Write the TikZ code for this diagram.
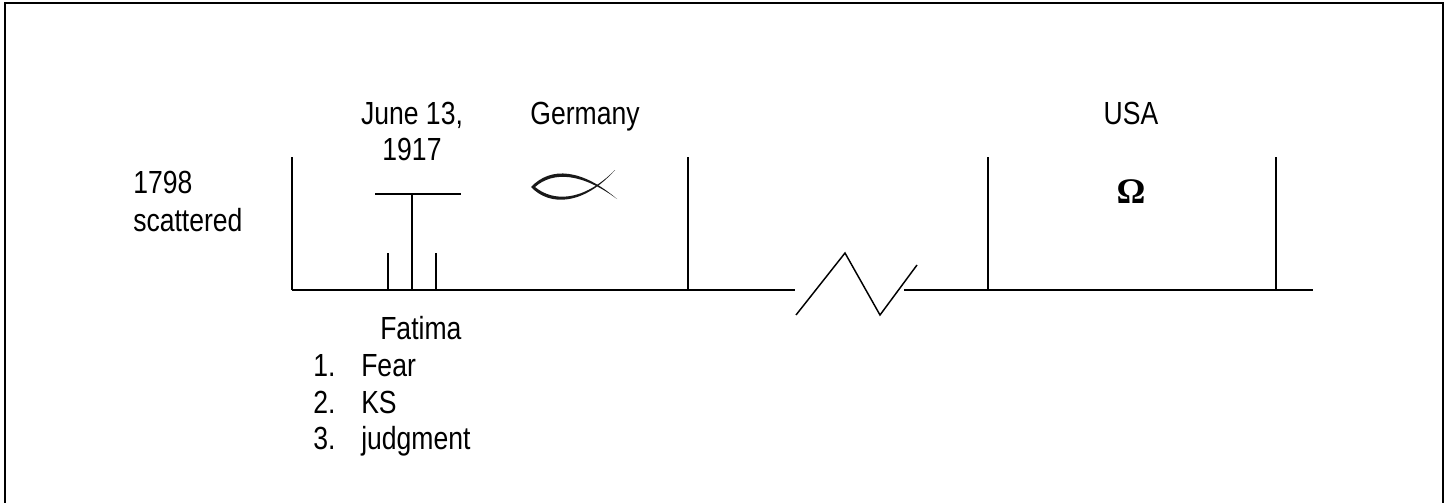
\documentclass[tikz,border=0pt]{standalone}
\usepackage{fontspec}
\setmainfont[FakeStretch=0.83]{Liberation Sans}
\newfontfamily\omegafont{Liberation Serif}
\usetikzlibrary{calc}

\tikzset{
	label/.style={inner sep=0pt, font=\fontsize{24}{27.75}\selectfont},
	rule/.style={line width=1.6pt, line cap=butt},
}

\begin{document}
\begin{tikzpicture}[x=0.75pt, y=-0.75pt]
	\def \axisy {290}
	\def \topy {157}

	\useasboundingbox (0,0) rectangle (1447,503);

	% frame, open at the bottom
	\coordinate (framea) at (5,503);
	\coordinate (frameb) at (5,3);
	\coordinate (framec) at (1443,3);
	\coordinate (framed) at (1443,503);
	\draw[line width=2pt, miter limit=10] (framea) -- (frameb) -- (framec) -- (framed);

	% timeline
	\coordinate (start)   at (292,\axisy);
	\coordinate (breakl)  at (795,\axisy);
	\coordinate (breakr)  at (904,\axisy);
	\coordinate (finish)  at (1313,\axisy);
	\draw[rule] (start) -- (breakl);
	\draw[rule] (breakr) -- (finish);

	\coordinate (zigone)   at (796,315);
	\coordinate (zigtwo)   at (845,253);
	\coordinate (zigthree) at (880,315);
	\coordinate (zigfour)  at (917,265);
	\draw[line width=1.1pt, line join=miter] (zigone) -- (zigtwo) -- (zigthree) -- (zigfour);

	% uprights
	\coordinate (first)    at (292,\axisy);
	\coordinate (firsttop) at (292,\topy);
	\coordinate (second)    at (688,\axisy);
	\coordinate (secondtop) at (688,\topy);
	\coordinate (third)    at (988,\axisy);
	\coordinate (thirdtop) at (988,\topy);
	\coordinate (fourth)    at (1276,\axisy);
	\coordinate (fourthtop) at (1276,\topy);
	\draw[rule] (first) -- (firsttop);
	\draw[rule] (second) -- (secondtop);
	\draw[rule] (third) -- (thirdtop);
	\draw[rule] (fourth) -- (fourthtop);

	% the T and its two short ticks
	\coordinate (barl) at (375,194);
	\coordinate (barm) at (412,194);
	\coordinate (barr) at (461,194);
	\coordinate (stem) at (412,\axisy);
	\coordinate (tickl)    at (388,\axisy);
	\coordinate (ticklend) at (388,253);
	\coordinate (tickr)    at (436,\axisy);
	\coordinate (tickrend) at (436,253);
	\draw[rule] (barl) -- (barr);
	\draw[rule] (barm) -- (stem);
	\draw[rule] (tickl) -- (ticklend);
	\draw[rule] (tickr) -- (tickrend);

	% fish
	\fill[black!90] (531,187) .. controls (551,166) and (582,169) .. (617,199)
		.. controls (582,173) and (553,171) .. (535,187)
		.. controls (553,202) and (583,202) .. (615,170)
		.. controls (584,205) and (550,207) .. (531,187) -- cycle;

	% labels
	\node[label, anchor=base] (june) at (412,124) {June 13,};
	\node[label, anchor=base] (year) at (412,161) {1917};
	\node[label, anchor=base] (germany) at (585,124) {Germany};
	\node[label, anchor=base] (usa) at (1131,124) {USA};
	\node[inner sep=0pt, anchor=base, font=\omegafont\bfseries\fontsize{27}{30}\selectfont] (omega) at (1131,203) {Ω};

	\node[label, anchor=base west] (date) at (133,193) {1798};
	\node[label, anchor=base west] (scattered) at (133,231) {scattered};

	\node[label, anchor=base west] (fatima) at (380,339) {Fatima};
	\node[label, anchor=base west] (numone) at (313,376) {1.};
	\node[label, anchor=base west] (fear) at (361,376) {Fear};
	\node[label, anchor=base west] (numtwo) at (313,413) {2.};
	\node[label, anchor=base west] (ks) at (361,413) {KS};
	\node[label, anchor=base west] (numthree) at (313,449) {3.};
	\node[label, anchor=base west] (judgment) at (361,449) {judgment};
\end{tikzpicture}
\end{document}
